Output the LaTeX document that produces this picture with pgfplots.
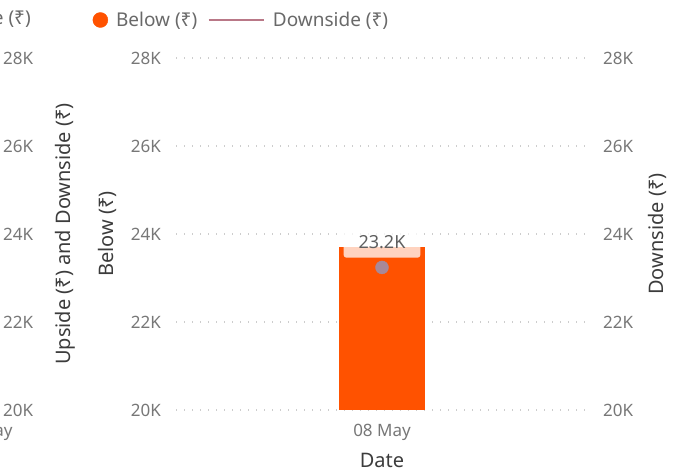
\documentclass[border=0pt]{standalone}
\usepackage{pgfplots}
\pgfplotsset{compat=1.18}
\usepackage{fontspec}
\setmainfont{Noto Sans}
\definecolor{barorange}{RGB}{255,82,0}
\definecolor{downline}{RGB}{185,120,135}
\definecolor{downdot}{RGB}{168,136,152}
\definecolor{ticktxt}{RGB}{119,119,119}
\definecolor{legtxt}{RGB}{105,105,105}
\definecolor{titletxt}{RGB}{60,60,60}
\definecolor{gridc}{RGB}{205,205,205}
\begin{document}
\begin{tikzpicture}
\pgfplotsset{
  base/.style={
    scale only axis, width=412bp, height=352bp, anchor=south west,
    ymin=20000, ymax=28000, ytick={20000,22000,24000,26000,28000},
    yticklabels={20K,22K,24K,26K,28K}, scaled y ticks=false,
    xmin=-0.5, xmax=0.5,
    axis line style={draw=none}, major tick length=0pt,
    tick label style={font=\fontsize{17bp}{20bp}\selectfont, text=ticktxt, inner sep=0pt},
    yticklabel shift=15bp, xticklabel shift=14bp,
  },
  ylab/.style={every axis y label/.style={at={(axis description cs:#1,0.5)}, rotate=90, anchor=center,
    font=\fontsize{20bp}{24bp}\selectfont, text=titletxt}},
}
% previous (cut-off) chart at the left
\begin{axis}[base, at={(-424bp,64bp)}, axis y line*=right,
  xmin=0, xmax=1, xtick={0.99}, xticklabels={08 May},
  ylabel={Upside (₹) and Downside (₹)}, ylab=1.1869]
\addplot[draw=none] coordinates {(0.99,21000)};
\end{axis}
\node[anchor=east, inner sep=0pt, text=legtxt, font=\fontsize{19bp}{22bp}\selectfont] at (31bp,454bp) {Upside (₹)};
% main chart: Below (left axis)
\begin{axis}[base, at={(176bp,64bp)}, axis y line*=left,
  xtick={0}, xticklabels={08 May},
  ymajorgrids, major grid style={gridc, line width=1.3bp, dash pattern=on 1.3bp off 6.7bp},
  ylabel={Below (₹)}, ylab=-0.1675,
  xlabel={Date},
  every axis x label/.style={at={(axis description cs:0.5,-0.142)}, anchor=center,
    font=\fontsize{20bp}{24bp}\selectfont, text=titletxt}]
\addplot[ybar, fill=barorange, draw=none, bar width=0.2087] coordinates {(0,23700)};
\end{axis}
% Downside (right axis)
\begin{axis}[base, at={(176bp,64bp)}, axis y line*=right, xtick=\empty,
  ylabel={Downside (₹)}, ylab=1.1675,
  legend columns=2,
  legend style={at={(axis description cs:-0.2027,1.108)}, anchor=west, draw=none, fill=none,
    inner sep=0pt, font=\fontsize{19bp}{22bp}\selectfont, text=legtxt,
    nodes={inner sep=0pt},
    /tikz/every odd column/.append style={column sep=8bp},
    /tikz/every even column/.append style={column sep=10bp}},
  clip=false]
\addlegendimage{legend image code/.code={\fill[barorange] (7.5bp,0) circle (7.5bp);}}
\addlegendentry{Below (₹)}
\addplot[only marks, mark=*, mark size=6.5bp, mark options={fill=downdot, draw=downdot},
  legend image code/.code={\draw[downline, line width=2.6bp] (0,0) -- (55bp,0);},
  point meta=explicit symbolic, nodes near coords,
  every node near coord/.style={anchor=south, yshift=9.5bp, fill=white, fill opacity=0.75,
    text opacity=1, text=ticktxt!80!black, rounded corners=3bp, inner xsep=15bp, inner ysep=9bp,
    font=\fontsize{18bp}{21bp}\selectfont}]
  coordinates {(0,23240) [23.2K]};
\addlegendentry{Downside (₹)}
\end{axis}
\pgfresetboundingbox
\useasboundingbox (0,0) rectangle (692bp,474bp);
\end{tikzpicture}
\end{document}
